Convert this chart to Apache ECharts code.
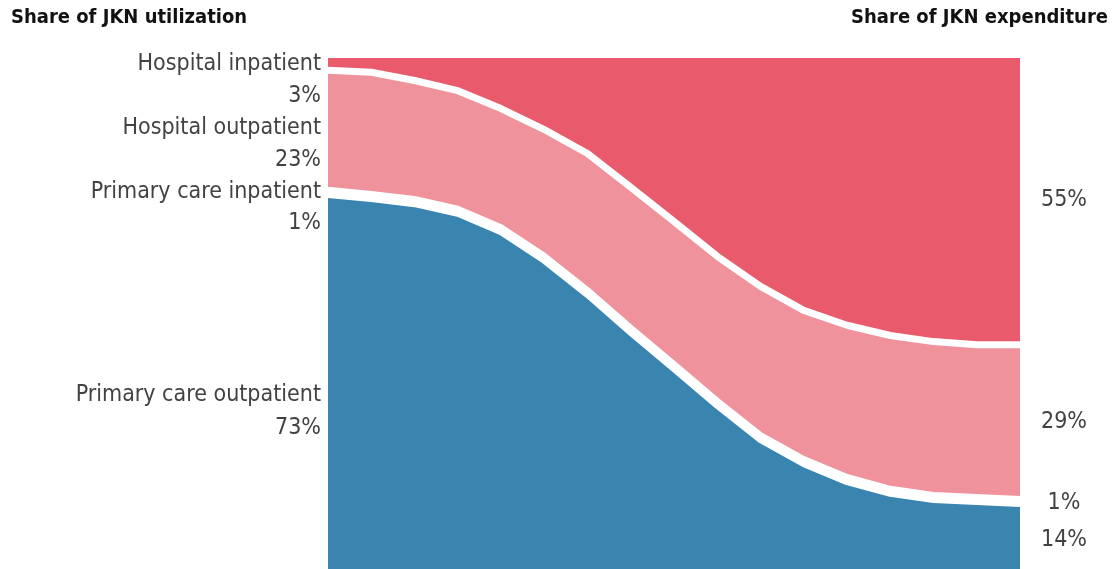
<!DOCTYPE html>
<html>
<head>
<meta charset="utf-8">
<script src="https://cdn.jsdelivr.net/npm/echarts@6/dist/echarts.min.js"></script>
<style>
  html, body { margin: 0; padding: 0; background: #fff; }
  #myChart { width: 1114px; height: 569px; }
</style>
</head>
<body>
<div id="myChart"></div>
<script>
  // 17 evenly spaced steps from utilization (left) to expenditure (right)
  var steps = ['0', '1', '2', '3', '4', '5', '6', '7', '8', '9', '10', '11', '12', '13', '14', '15', '16']

  // shares in %
  var primaryOut = [73.2, 72.4, 71.4, 69.5, 65.9, 60.3, 53.6, 46.2, 39.1, 31.9, 25.2, 20.5, 17.0, 14.7, 13.5, 13.1, 12.7]
  var primaryIn = [1, 1, 1, 1, 1, 1, 1, 1, 1, 1, 1, 1, 1, 1, 1, 1, 1]
  var hospitalOut = [23.4, 23.8, 23.2, 23.1, 23.2, 24.7, 26.7, 27.5, 27.9, 28.3, 29.1, 29.1, 29.7, 30.0, 30.0, 29.8, 30.2]
  var hospitalIn = [2.4, 2.8, 4.4, 6.4, 9.9, 14.0, 18.7, 25.3, 32.0, 38.8, 44.7, 49.4, 52.3, 54.3, 55.5, 56.1, 56.1]

  var leftLabels = ['Hospital inpatient', '3%', 'Hospital outpatient', '23%', 'Primary care inpatient', '1%', 'Primary care outpatient', '73%']
  var rightLabels = ['55%', '29%', '1%', '14%']

  var font = '"DejaVu Sans Condensed", "Liberation Sans Narrow", sans-serif'
  var leftY = [64, 96, 128, 160, 192, 223, 395, 428]
  var rightY = [200, 422, 503, 540]

  var graphics = [
    {type: 'text', left: 11, top: 8, style: {text: 'Share of JKN utilization', font: 'bold 20px ' + font, fill: '#111'}},
    {type: 'text', right: 6, top: 8, style: {text: 'Share of JKN expenditure', font: 'bold 20px ' + font, fill: '#111'}}
  ]
  leftLabels.forEach(function (t, i) {
    graphics.push({type: 'text', x: 321, y: leftY[i], style: {text: t, font: '23px ' + font, fill: '#424242', align: 'right', verticalAlign: 'middle'}})
  })
  rightLabels.forEach(function (t, i) {
    graphics.push({type: 'text', x: 1064, y: rightY[i], style: {text: t, font: '23px ' + font, fill: '#424242', align: 'center', verticalAlign: 'middle'}})
  })

  function layer(name, data, color, lineWidth, z) {
    return {
      name: name,
      type: 'line',
      stack: 'total',
      data: data,
      symbol: 'none',
      smooth: false,
      z: z,
      lineStyle: {color: '#fff', width: lineWidth},
      areaStyle: {color: color, opacity: 1}
    }
  }

  var myChart = echarts.init(document.getElementById('myChart'))
  myChart.setOption({
    animation: false,
    grid: {left: 328, right: 94, top: 58, bottom: 0},
    xAxis: {type: 'category', boundaryGap: false, data: steps, show: false},
    yAxis: {type: 'value', min: 0, max: 100, show: false},
    graphic: graphics,
    series: [
      layer('Primary care outpatient', primaryOut, '#3a85b0', 6, 6),
      layer('Primary care inpatient', primaryIn, '#fff', 6, 5),
      layer('Hospital outpatient', hospitalOut, '#ef929c', 7, 4),
      layer('Hospital inpatient', hospitalIn, '#e85a6c', 0, 3)
    ]
  })
</script>
</body>
</html>
